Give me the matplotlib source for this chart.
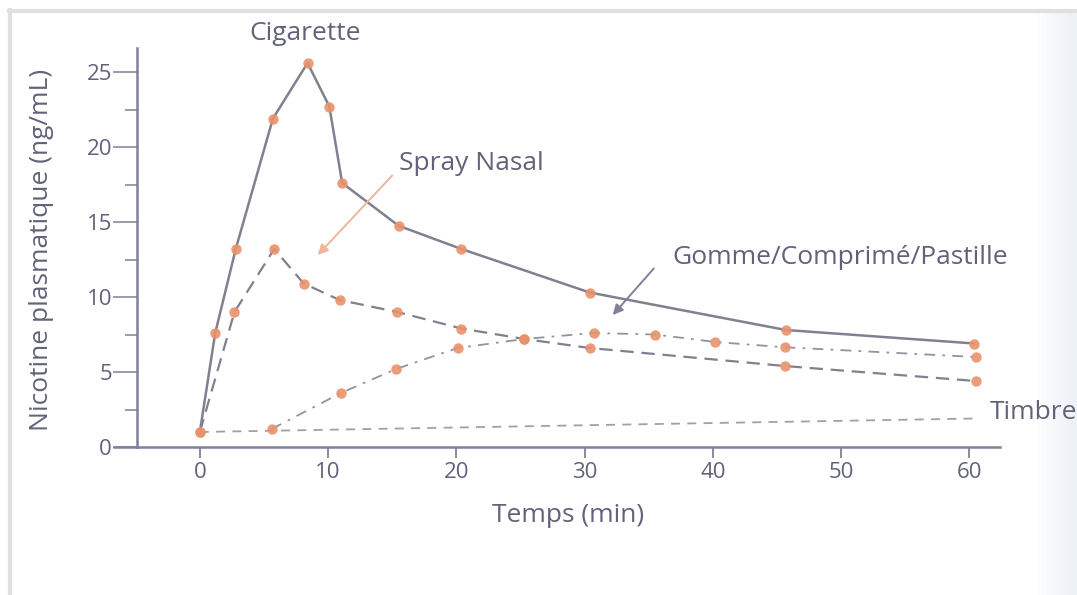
import matplotlib
matplotlib.use("Agg")
import matplotlib.pyplot as plt
from matplotlib.lines import Line2D
from matplotlib.patches import Rectangle

# minutes / ng/mL
cig_t = [0, 1.2, 2.8, 5.7, 8.4, 10.1, 11.1, 15.5, 20.4, 30.4, 45.7, 60.4]
cig_c = [1.0, 7.6, 13.2, 21.9, 25.6, 22.7, 17.6, 14.75, 13.2, 10.3, 7.8, 6.9]

spray_t = [0, 2.7, 5.8, 8.1, 10.9, 15.4, 20.4, 25.3, 30.4, 45.6, 60.5]
spray_c = [1.0, 9.0, 13.2, 10.9, 9.8, 9.0, 7.9, 7.2, 6.6, 5.4, 4.4]

gum_t = [5.6, 11.0, 15.3, 20.1, 25.3, 30.7, 35.5, 40.2, 45.6, 60.5]
gum_c = [1.2, 3.6, 5.2, 6.6, 7.2, 7.6, 7.5, 7.0, 6.65, 6.0]

patch_t = [0, 30, 60.5]
patch_c = [1.0, 1.45, 1.9]

x_ticks = [0, 10, 20, 30, 40, 50, 60]
y_ticks = [0, 5, 10, 15, 20, 25]

TXT = "#62627a"
AX = "#80809a"
LINE = "#80808f"
DOT = "#e8926c"

plt.rcParams["font.family"] = ["Open Sans", "DejaVu Sans"]

fig = plt.figure(figsize=(10.77, 5.95), dpi=100)
ax = fig.add_axes([137 / 1077, 148 / 595, 863 / 1077, 399 / 595])

# scan frame: only top and left edges show, plus a faint bluish fade at the right
fig.add_artist(Line2D([9 / 1077, 1], [1 - 11 / 595] * 2, transform=fig.transFigure,
                      color="#e0e0e0", lw=3))
fig.add_artist(Line2D([10 / 1077] * 2, [0, 1 - 10 / 595], transform=fig.transFigure,
                      color="#e0e0e0", lw=3))
for i in range(8):
    x0 = (1037 + i * 5) / 1077
    fig.patches.append(Rectangle((x0, 0), 1 - x0, 1 - 13 / 595, transform=fig.transFigure,
                                 facecolor="#dfe7f3", edgecolor="none", alpha=0.07,
                                 zorder=-1))

ax.set_facecolor("none")
ax.plot(patch_t, patch_c, color=LINE, lw=1.3, dashes=(5, 4), alpha=0.75)
ax.plot(gum_t, gum_c, color=LINE, lw=1.3, dashes=(6, 4, 1.5, 4), alpha=0.85)
ax.plot(spray_t, spray_c, color=LINE, lw=1.6, dashes=(6, 3.5))
ax.plot(cig_t, cig_c, color=LINE, lw=1.8)

for t, c in [(cig_t, cig_c), (spray_t, spray_c), (gum_t, gum_c)]:
    ax.plot(t, c, ls="none", marker="o", ms=7.5, color=DOT, mec="none", alpha=0.9)

ax.set_xlim(-4.9, 62.4)
ax.set_ylim(0, 26.6)

for s in ["top", "right"]:
    ax.spines[s].set_visible(False)
for s in ["left", "bottom"]:
    ax.spines[s].set_color(AX)
    ax.spines[s].set_linewidth(1.8)
# x axis line runs a bit past the y axis on the left
ax.plot([-6.8, -4.9], [0, 0], color=AX, lw=1.8, clip_on=False, solid_capstyle="butt")

ax.set_xticks(x_ticks)
ax.set_xticklabels([str(v) for v in x_ticks])
ax.set_yticks(y_ticks)
ax.set_yticklabels([str(v) for v in y_ticks])
ax.set_yticks([2.5, 7.5, 12.5, 17.5, 22.5], minor=True)
ax.tick_params(axis="x", direction="out", length=8, width=1.3, color=AX, pad=3,
               labelsize=16, labelcolor=TXT)
ax.tick_params(axis="y", which="major", direction="out", length=17, width=1.1, color=AX,
               pad=1, labelsize=16, labelcolor=TXT)
ax.tick_params(axis="y", which="minor", direction="out", length=8.5, width=1.1, color=AX)

ax.set_xlabel("Temps (min)", fontsize=19, color=TXT, labelpad=14)
fig.text(42 / 1077, 1 - 250 / 595, "Nicotine plasmatique (ng/mL)", rotation=90,
         ha="center", va="center", fontsize=19, color=TXT)

ax.text(8.2, 27.6, "Cigarette", ha="center", va="center", fontsize=19, color=TXT, clip_on=False)

ax.text(21.2, 18.9, "Spray Nasal", ha="center", va="center", fontsize=19, color=TXT)
ax.annotate("", xy=(9.2, 12.8), xytext=(15.0, 18.1),
            arrowprops=dict(arrowstyle="-|>", color="#f0b49a", lw=1.4, mutation_scale=15,
                            shrinkA=0, shrinkB=0))

ax.text(49.9, 12.6, "Gomme/Comprimé/Pastille", ha="center", va="center", fontsize=19, color=TXT)
ax.annotate("", xy=(32.2, 8.8), xytext=(35.4, 11.9),
            arrowprops=dict(arrowstyle="-|>", color=AX, lw=1.4, mutation_scale=15,
                            shrinkA=0, shrinkB=0))

ax.text(61.6, 2.3, "Timbre", ha="left", va="center", fontsize=19, color=TXT, clip_on=False)

fig.savefig("out.png", dpi=100)
